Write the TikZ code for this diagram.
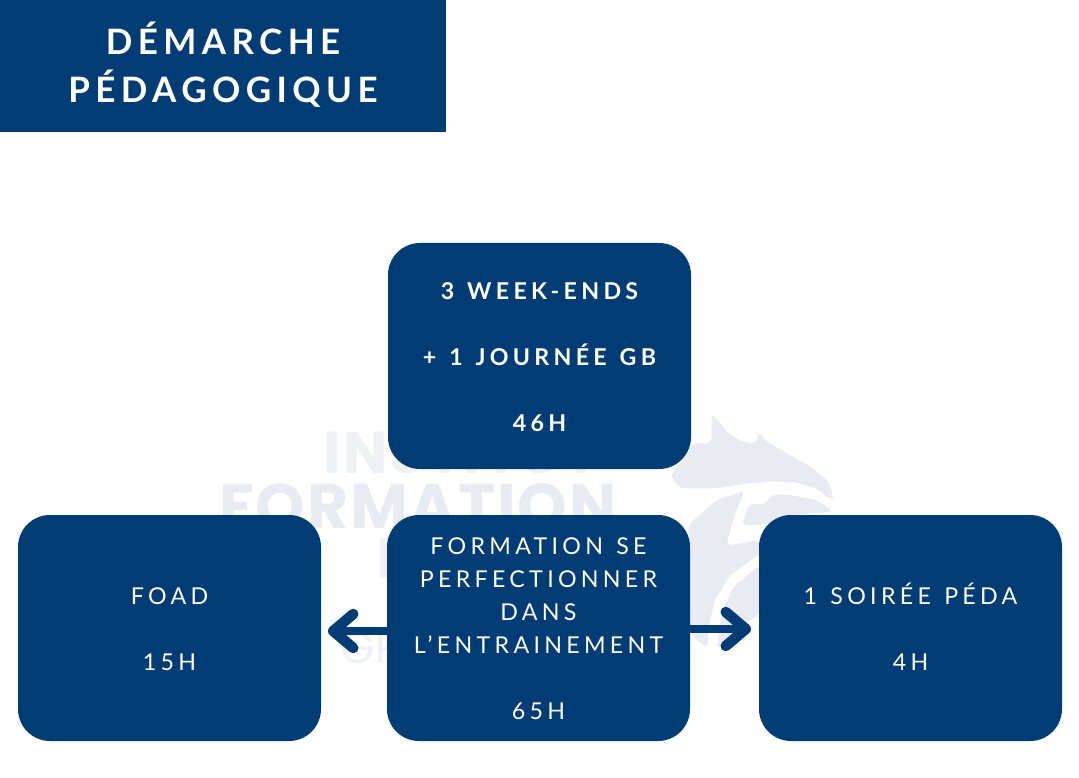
\documentclass[tikz,border=0pt]{standalone}
\usepackage{fontspec}
\setmainfont{Lato}
\newfontfamily\titlefont[LetterSpace=15.5,Ligatures=NoCommon]{Lato Bold}
\newfontfamily\boldfont[LetterSpace=18.5,WordSpace=1.3,Ligatures=NoCommon]{Lato Bold}
\newfontfamily\regfont[LetterSpace=18.5,WordSpace=1.3,Ligatures=NoCommon]{Lato}
\newfontfamily\markfont[LetterSpace=3]{Poppins}
\newcommand\firstrow[1]{\raisebox{0pt}[18.5pt][0pt]{#1}}
\usetikzlibrary{arrows.meta}
\definecolor{navy}{HTML}{023C74}
\definecolor{ghost}{HTML}{E8EBF1}
\definecolor{ghostB}{HTML}{F0F1F4}
\tikzset{
  x=1pt,y=-1pt,
  roundbox/.style={fill=navy,rounded corners=32pt,minimum width=303pt,minimum height=226pt,inner sep=0pt,text=white,align=center},
  boldtext/.style={font=\boldfont\fontsize{23.2}{33}\selectfont},
  regtext/.style={font=\regfont\fontsize{23.2}{33}\selectfont},
  titlebox/.style={fill=navy,minimum width=446pt,minimum height=132pt,inner sep=0pt,text=white,align=center,font=\titlefont\fontsize{35}{48}\selectfont},
  link/.style={draw=navy,line width=8pt,-{Straight Barb[round,length=20pt,width=34pt,line width=10.5pt]}},
  markword/.style={inner sep=0pt},
}
\begin{document}
\begin{tikzpicture}
\useasboundingbox (0,0) rectangle (1079,778);
\fill[white] (0,0) rectangle (1079,778);
% faint watermark
\node[markword,text=ghostB,font=\markfont\bfseries\fontsize{59}{59}\selectfont] (wmA) at (461,453) {INSTITUT};
\node[markword,text=ghost,font=\markfont\bfseries\fontsize{63}{63}\selectfont] (wmB) at (418,506) {FORMATION};
\node[markword,text=ghostB,font=\markfont\fontsize{44}{44}\selectfont,anchor=west] (wmC) at (340,648) {GR};
\fill[ghostB] (380,538) rectangle (388,577);
\begin{scope}[shift={(650,400)},scale=0.3333,fill=ghost,rounded corners=5pt]
  \fill (185,40) -- (235,100) -- (275,125) -- (320,130) -- (325,95) -- (350,125) -- (420,165) -- (490,205) -- (535,245) -- (550,290) -- (545,302) -- (500,265) -- (440,248) -- (360,243) -- (290,250) -- (200,265) -- (90,265) -- (60,225) -- (110,165) -- (125,130) -- (185,130) -- cycle;
  \fill (285,272) -- (200,300) -- (115,375) -- (120,700) -- (172,745) -- (178,670) -- (195,600) -- (240,525) -- (330,462) -- (330,420) -- (228,437) -- (255,340) -- cycle;
  \fill (275,375) -- (300,310) -- (345,315) -- (365,285) -- (420,285) -- (500,300) -- (550,335) -- (420,345) -- (340,375) -- cycle;
  \fill (330,495) -- (250,560) -- (215,640) -- (200,750) -- (240,700) -- (330,640) -- cycle;
\end{scope}
% boxes
\node[titlebox] (title) at (223,66) {DÉMARCHE\\\raisebox{0pt}[\height][8pt]{PÉDAGOGIQUE}};
\node[roundbox,boldtext] (top) at (539.5,356) {\firstrow{3 WEEK-ENDS}\\[33pt]+ 1 JOURNÉE GB\\[33pt]46H};
\node[roundbox,regtext] (left) at (169.5,628) {\firstrow{FOAD}\\[33pt]15H};
\node[roundbox,regtext] (mid) at (538.5,628) {\firstrow{FORMATION SE}\\PERFECTIONNER\\DANS\\L’ENTRAINEMENT\\[33pt]65H};
\node[roundbox,regtext] (right) at (910.5,628) {\firstrow{1 SOIRÉE PÉDA}\\[33pt]4H};
\coordinate (leftend) at (328,631);
\coordinate (rightend) at (751,629);
\draw[link] (mid.west |- leftend) -- (leftend);
\draw[link] (mid.east |- rightend) -- (rightend);
\end{tikzpicture}
\end{document}
